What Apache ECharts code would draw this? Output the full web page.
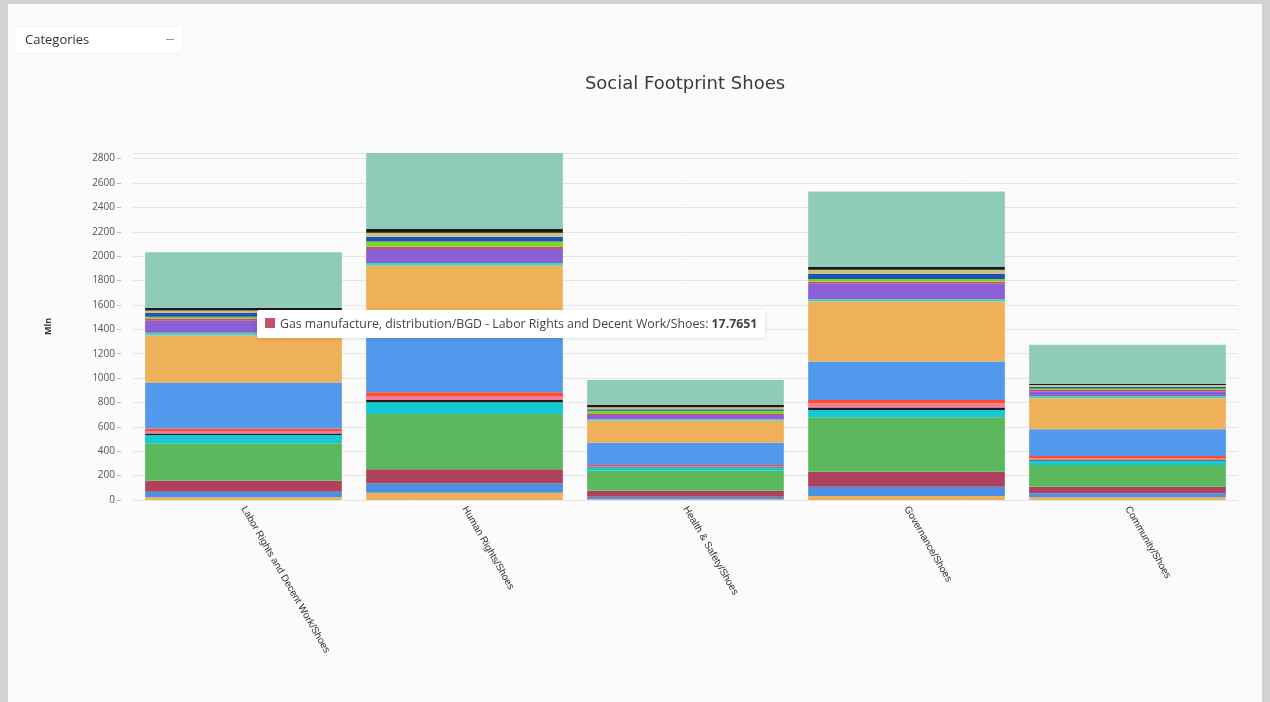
<!DOCTYPE html>
<html>
<head>
<meta charset="utf-8">
<script src="https://cdn.jsdelivr.net/npm/echarts@6/dist/echarts.min.js"></script>
<style>
  html, body { margin: 0; padding: 0; width: 1270px; height: 702px; overflow: hidden; background: #d2d2d2; }
  #panel { position: absolute; left: 8px; top: 4px; width: 1254px; height: 698px; background: #fbfbfb; }
  #chart { position: absolute; left: 0; top: 0; width: 1254px; height: 698px; }
  #dd { position: absolute; left: 7px; top: 23px; width: 167px; height: 25px; background: #fff;
        box-shadow: 0 0 3px rgba(0,0,0,0.06); font-family: "Open Sans", sans-serif; font-size: 13px; color: #333;
        line-height: 25px; box-sizing: border-box; padding-left: 10px; z-index: 5; }
  #dd span { position: absolute; right: 8px; top: 12px; width: 8px; height: 1px; background: #999; }
</style>
</head>
<body>
<div id="panel">
  <div id="chart"></div>
  <div id="dd">Categories<span></span></div>
</div>
<script>
const categories = [
  "Labor Rights and Decent Work/Shoes",
  "Human Rights/Shoes",
  "Health & Safety/Shoes",
  "Governance/Shoes",
  "Community/Shoes"
];
const seriesNames = [
  "Leather products/CHN",
  "Rubber and plastic products/VNM",
  "Textiles/IDN",
  "Wearing apparel/CHN",
  "Chemical products/IND",
  "Electricity/CHN",
  "Trade services/VNM",
  "Transport services/CHN",
  "Leather products/VNM",
  "Leather products/IDN",
  "Cattle/BRA",
  "Leather products/IND",
  "Gas manufacture, distribution/BGD",
  "Textiles/BGD",
  "Business services/USA",
  "Agriculture/IND",
  "Coal/CHN",
  "Other sectors"
];
const seriesColors = [
  "#f0b05a", "#4a90e2", "#b0415e", "#5cb85c", "#14c8d4", "#1c1c1c",
  "#f07c9a", "#ff4b2b", "#5199ec", "#eeb159", "#50d0b0", "#8b5fd6",
  "#c8506a", "#7ed321", "#1e50c0", "#c8c27a", "#1a1a1a", "#90cbb8"
];
const s01 = [22, 60, 6, 33, 22];
const s02 = [46, 77, 21, 76, 33];
const s03 = [90, 115, 49, 123, 54];
const s04 = [307, 454, 164, 447, 178];
const s05 = [69, 96, 28, 60, 36];
const s06 = [12, 19, 3, 19, 5];
const s07 = [20, 33, 8, 36, 13];
const s08 = [21, 30, 8, 27, 20];
const s09 = [376, 560, 183, 314, 219];
const s10 = [386, 477, 181, 493, 255];
const s11 = [22, 22, 11, 19, 19];
const s12 = [99, 115, 36, 126, 38];
const s13 = [17.7651, 19, 8, 17, 11];
const s14 = [16, 43, 27, 22, 12];
const s15 = [29, 39, 12, 41, 13];
const s16 = [21, 33, 16, 35, 16];
const s17 = [22, 30, 19, 22, 8];
const s18 = [456, 624, 205, 620, 321];
const seriesValues = [s01, s02, s03, s04, s05, s06, s07, s08, s09, s10, s11, s12, s13, s14, s15, s16, s17, s18];
const yTicks = { min: 0, interval: 200 };

const chart = echarts.init(document.getElementById('chart'));
const series = seriesNames.map((n, i) => ({
  name: n,
  type: 'bar',
  stack: 'total',
  barCategoryGap: '11%',
  itemStyle: { color: seriesColors[i] },
  emphasis: { disabled: true },
  data: seriesValues[i]
}));

chart.setOption({
  animation: false,
  title: {
    text: 'Social Footprint Shoes',
    left: 672, top: 66, textAlign: 'center',
    textStyle: { fontFamily: 'DejaVu Sans', fontSize: 18, fontWeight: 'normal', color: '#3a3a3a' }
  },
  tooltip: {
    trigger: 'item',
    triggerOn: 'none',
    alwaysShowContent: true,
    transitionDuration: 0,
    position: [249, 306],
    backgroundColor: '#ffffff',
    borderWidth: 0,
    padding: [5, 8],
    extraCssText: 'box-shadow: 0 1px 4px rgba(0,0,0,0.12); border-radius: 2px;',
    textStyle: { fontFamily: 'Open Sans', fontSize: 12.3, color: '#444' },
    formatter: p => '<span style="display:inline-block;width:10px;height:10px;margin-right:5px;background:' +
      p.color + ';"></span>' + p.seriesName + ' - ' + p.name + ': <b>' + p.value + '</b>'
  },
  grid: { left: 125, right: 24, top: 149, bottom: 202 },
  xAxis: {
    type: 'category',
    data: categories,
    axisLine: { show: false },
    axisTick: { show: false },
    axisLabel: { rotate: -60, fontSize: 10, color: '#333', fontFamily: 'Liberation Sans', margin: 7, interval: 0 }
  },
  yAxis: {
    type: 'value',
    min: yTicks.min,
    max: 'dataMax',
    interval: yTicks.interval,
    offset: 12,
    name: 'Mln',
    nameLocation: 'middle',
    nameGap: 68,
    nameTextStyle: { fontSize: 9, color: '#333', fontFamily: 'Open Sans', fontWeight: 'bold' },
    axisLine: { show: false },
    axisTick: { show: true, length: 4, lineStyle: { color: '#bbb' } },
    axisLabel: { fontSize: 10, color: '#555', fontFamily: 'Open Sans', margin: 6, formatter: v => String(v) },
    splitLine: { lineStyle: { color: '#e6e6e6' } }
  },
  series: series
});
chart.dispatchAction({ type: 'showTip', seriesIndex: 12, dataIndex: 0 });
</script>
</body>
</html>
